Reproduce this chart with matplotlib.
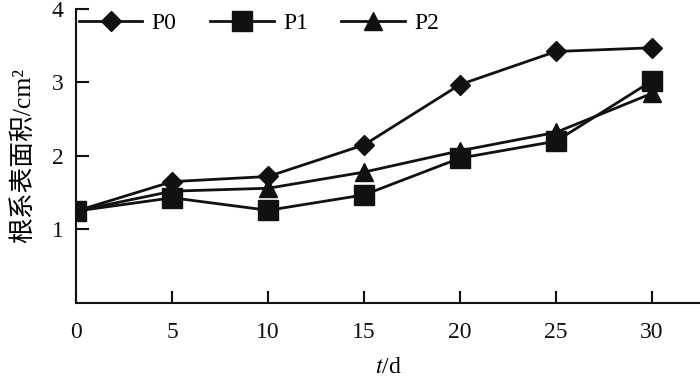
import matplotlib
matplotlib.use("Agg")
import matplotlib.pyplot as plt

plt.rcParams['font.family'] = ['Liberation Serif', 'Noto Sans CJK SC']
plt.rcParams['mathtext.fontset'] = 'stix'

days = [0, 5, 10, 15, 20, 25, 30]
p0 = [1.25, 1.65, 1.72, 2.15, 2.97, 3.42, 3.47]
p1 = [1.25, 1.43, 1.26, 1.47, 1.97, 2.20, 3.02]
p2 = [1.25, 1.52, 1.56, 1.78, 2.07, 2.32, 2.85]
labels = ['P0', 'P1', 'P2']

fig = plt.figure(figsize=(7, 3.83), dpi=100)
ax = fig.add_axes([0.109, 0.209, 0.891, 0.768])

ax.plot(days, p0, color='#111111', lw=2, marker='D', ms=10.5, label=labels[0])
ax.plot(days, p1, color='#111111', lw=2, marker='s', ms=14, label=labels[1])
ax.plot(days, p2, color='#111111', lw=2, marker='^', ms=13, label=labels[2])

ax.set_xlim(0, 32.5)
ax.set_ylim(0, 4)
ax.set_xticks([0, 5, 10, 15, 20, 25, 30])
ax.set_yticks([1, 2, 3, 4])
ax.tick_params(direction='in', length=9, width=1.5, labelsize=17, colors='#111111')
ax.tick_params(axis='x', pad=14)
ax.tick_params(axis='y', pad=9)
for s in ['top', 'right']:
    ax.spines[s].set_visible(False)
for s in ['left', 'bottom']:
    ax.spines[s].set_linewidth(1.5)
    ax.spines[s].set_color('#111111')

ax.set_xlabel('$t$/d', fontsize=17, labelpad=10)
ax.set_ylabel('根系表面积/cm²', fontsize=18.5, labelpad=12)

ax.legend(loc='upper left', bbox_to_anchor=(0.0, 0.995), ncol=3, frameon=False,
          fontsize=17, handlelength=2.7, columnspacing=1.4, handletextpad=0.4,
          borderaxespad=0, borderpad=0.1)

fig.savefig('out.png', dpi=100)
